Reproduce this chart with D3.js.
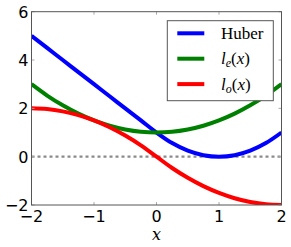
<!DOCTYPE html>
<html>
<head>
<meta charset="utf-8">
<style>
  html, body { margin: 0; padding: 0; background: #fff; }
</style>
</head>
<body>
<svg width="291" height="247"></svg>
<script src="https://d3js.org/d3.v7.min.js"></script>
<script>

var xs     = [-2, -1.75, -1.5, -1.25, -1, -0.75, -0.5, -0.25, 0, 0.25, 0.5, 0.75, 1, 1.25, 1.5, 1.75, 2];
var huber  = [5, 4.5, 4, 3.5, 3, 2.5, 2, 1.5, 1, 0.5625, 0.25, 0.0625, 0, 0.0625, 0.25, 0.5625, 1];
var lEven  = [3, 2.53, 2.125, 1.78, 1.5, 1.28, 1.125, 1.03, 1, 1.03, 1.125, 1.28, 1.5, 1.78, 2.125, 2.53, 3];
var lOdd   = [2, 1.97, 1.875, 1.72, 1.5, 1.22, 0.875, 0.47, 0, -0.47, -0.875, -1.22, -1.5, -1.72, -1.875, -1.97, -2];
var xTicks = [-2, -1, 0, 1, 2];
var yTicks = [-2, 0, 2, 4, 6];

var series = [
  {name: "Huber", values: huber, color: "#0000ff"},
  {name: "le", values: lEven, color: "#008000"},
  {name: "lo", values: lOdd, color: "#ff0000"}
];

var svg = d3.select("svg");
var pl = 31.5, pr = 281.5, pt = 11.7, pb = 205;

var x = d3.scaleLinear().domain([-2, 2]).range([pl, pr]);
var y = d3.scaleLinear().domain([-2, 6]).range([pb, pt]);

var plot = svg.append("g");
plot.append("clipPath").attr("id", "clip")
  .append("rect").attr("x", pl).attr("y", pt)
  .attr("width", pr - pl).attr("height", pb - pt);

// dotted zero line
plot.append("line")
    .attr("x1", pl).attr("x2", pr)
    .attr("y1", y(0)).attr("y2", y(0))
    .attr("stroke", "#8a8a8a")
    .attr("stroke-width", 2.2)
    .attr("stroke-dasharray", "3,3");

var line = d3.line()
    .x(function(d, i) { return x(xs[i]); })
    .y(function(d) { return y(d); })
    .curve(d3.curveMonotoneX);

plot.selectAll(".curve")
  .data(series)
  .enter().append("path")
    .attr("class", "curve")
    .attr("clip-path", "url(#clip)")
    .attr("d", function(d) { return line(d.values); })
    .attr("fill", "none")
    .attr("stroke", function(d) { return d.color; })
    .attr("stroke-width", 4);

// ticks on all four sides, pointing inward
var fmt = function(d) { return d < 0 ? "\u2212" + Math.abs(d) : String(d); };

var ax = svg.append("g").attr("stroke", "#aaa").attr("stroke-width", 1);
xTicks.forEach(function(t) {
  ax.append("line").attr("x1", x(t)).attr("x2", x(t)).attr("y1", pb).attr("y2", pb - 3);
  ax.append("line").attr("x1", x(t)).attr("x2", x(t)).attr("y1", pt).attr("y2", pt + 3);
});
yTicks.forEach(function(t) {
  ax.append("line").attr("x1", pl).attr("x2", pl + 3).attr("y1", y(t)).attr("y2", y(t));
  ax.append("line").attr("x1", pr).attr("x2", pr - 3).attr("y1", y(t)).attr("y2", y(t));
});

svg.append("rect")
    .attr("x", pl).attr("y", pt)
    .attr("width", pr - pl).attr("height", pb - pt)
    .attr("fill", "none").attr("stroke", "#555").attr("stroke-width", 1);

svg.append("g").selectAll("text")
  .data(xTicks)
  .enter().append("text")
    .attr("x", function(d) { return x(d); })
    .attr("y", pb + 17)
    .attr("text-anchor", "middle")
    .attr("font-family", "DejaVu Sans")
    .attr("font-size", 16)
    .text(fmt);

svg.append("g").selectAll("text")
  .data(yTicks)
  .enter().append("text")
    .attr("x", pl - 3)
    .attr("y", function(d) { return y(d) + 6; })
    .attr("text-anchor", "end")
    .attr("font-family", "DejaVu Sans")
    .attr("font-size", 16)
    .text(fmt);

svg.append("text")
    .attr("x", x(0))
    .attr("y", 240)
    .attr("text-anchor", "middle")
    .attr("font-family", "DejaVu Serif")
    .attr("font-style", "italic")
    .attr("font-size", 16)
    .text("x");

// legend
var lg = svg.append("g");
lg.append("rect")
    .attr("x", 167.3).attr("y", 20.7)
    .attr("width", 106).attr("height", 80)
    .attr("fill", "#fff").attr("stroke", "#555").attr("stroke-width", 1);

var rows = lg.selectAll(".row")
  .data(series)
  .enter().append("g")
    .attr("class", "row")
    .attr("transform", function(d, i) { return "translate(0," + (33.3 + i * 25.4) + ")"; });

rows.append("line")
    .attr("x1", 177.3).attr("x2", 204.3)
    .attr("stroke", function(d) { return d.color; })
    .attr("stroke-width", 4);

rows.each(function(d) {
  var t = d3.select(this).append("text")
      .attr("x", 221).attr("y", 5.5)
      .attr("font-family", "Liberation Serif, DejaVu Serif")
      .attr("font-size", 17);
  if (d.name === "Huber") {
    t.text("Huber");
  } else {
    t.append("tspan").attr("font-style", "italic").text("l");
    t.append("tspan").attr("font-style", "italic").attr("font-size", 12).attr("dy", 3).text(d.name.slice(1));
    t.append("tspan").attr("dy", -3).text("(");
    t.append("tspan").attr("font-style", "italic").text("x");
    t.append("tspan").text(")");
  }
});

</script>
</body>
</html>
